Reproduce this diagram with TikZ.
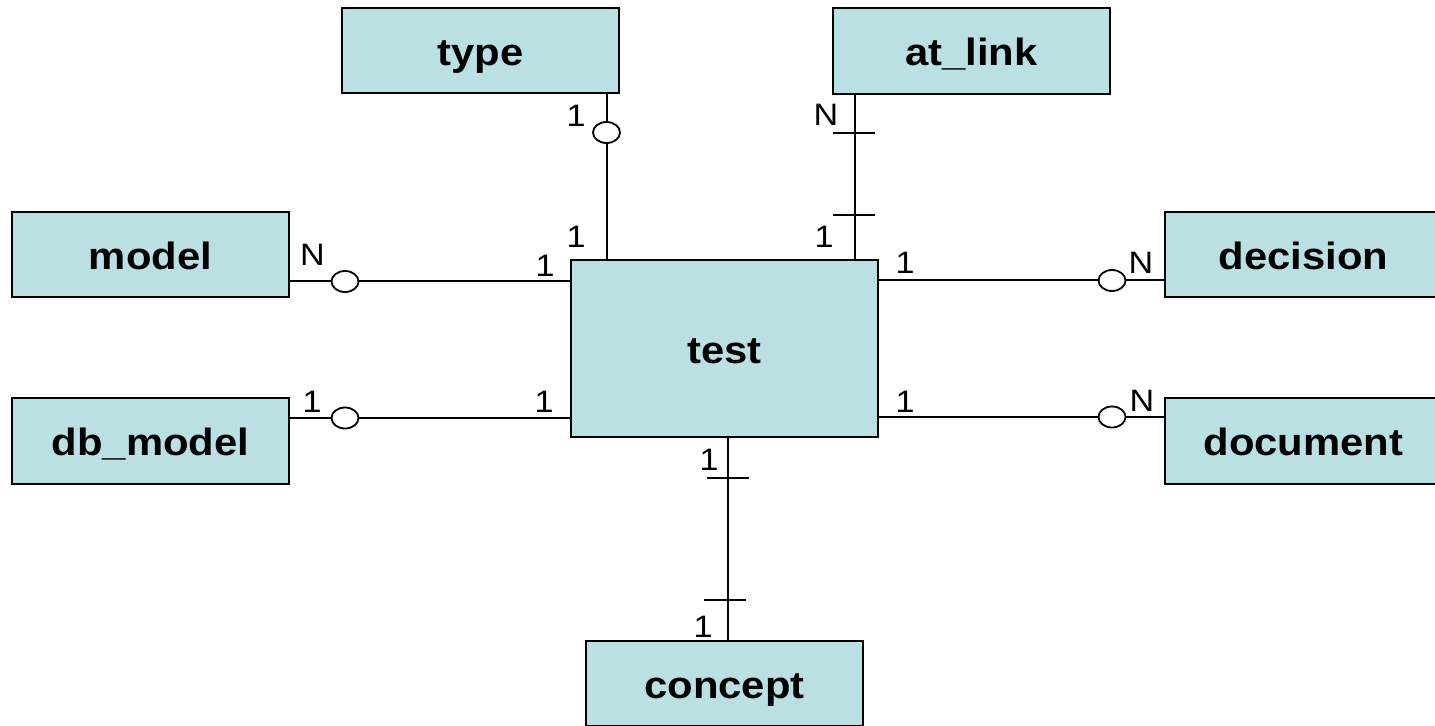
\documentclass[tikz,border=0pt]{standalone}
\usepackage{fontspec}
\setmainfont[FakeStretch=1.1]{Liberation Sans}
\usetikzlibrary{shapes.geometric}
\definecolor{entfill}{RGB}{186,224,227}
\begin{document}
\begin{tikzpicture}[x=0.5pt,y=-0.5pt,
  ent/.style={draw=black, line width=1pt, fill=entfill,
    font=\fontsize{19}{22}\selectfont\bfseries,
    text height=14.5pt, text depth=0pt,
    minimum width=138.5pt, minimum height=42.5pt, inner sep=0pt, outer sep=0pt},
  card/.style={font=\fontsize{15.5}{18}\selectfont, inner sep=0pt},
  rel/.style={line width=0.9pt},
  oring/.style={draw, line width=0.9pt, fill=white, ellipse,
    minimum width=13.5pt, minimum height=10.5pt, inner sep=0pt},
  bar/.style={line width=0.9pt}]
\useasboundingbox (0,0) rectangle (1435,725);

% entities
\node[ent] (type) at (480.5,50.5) {type};
\node[ent, minimum height=43pt] (atlink) at (971.5,51) {at\_link};
\node[ent] (model) at (150.5,254.5) {model};
\node[ent] (decision) at (1303.5,254.5) {decision};
\node[ent, minimum width=153.5pt, minimum height=88.5pt] (test) at (724.5,348.5) {test};
\node[ent, minimum height=43pt] (dbmodel) at (150.5,441) {db\_model};
\node[ent, minimum height=43pt] (document) at (1303.5,441) {document};
\node[ent] (concept) at (724.5,683.5) {concept};

% reference coordinates for connector positions
\coordinate (xtype) at (607,0);
\coordinate (xat) at (855,0);
\coordinate (xcon) at (728,0);
\coordinate (ymodel) at (0,281);
\coordinate (ydec) at (0,280);
\coordinate (ydb) at (0,418);
\coordinate (ydoc) at (0,417);

% connectors
\draw[rel] (type.south -| xtype) -- (test.north -| xtype);
\draw[rel] (atlink.south -| xat) -- (test.north -| xat);
\draw[rel] (model.east |- ymodel) -- (test.west |- ymodel);
\draw[rel] (test.east |- ydec) -- (decision.west |- ydec);
\draw[rel] (dbmodel.east |- ydb) -- (test.west |- ydb);
\draw[rel] (test.east |- ydoc) -- (document.west |- ydoc);
\draw[rel] (test.south -| xcon) -- (concept.north -| xcon);

% optional markers (circles)
\node[oring] (o1) at (606.5,132.5) {};
\node[oring] (o2) at (345,281.5) {};
\node[oring] (o3) at (345,418) {};
\node[oring] (o4) at (1112,280.5) {};
\node[oring] (o5) at (1112,417) {};

% mandatory markers (bars)
\draw[bar] (833,133) -- (875,133);
\draw[bar] (833,215) -- (875,215);
\draw[bar] (707,478) -- (749,478);
\draw[bar] (704,600) -- (746,600);

% cardinality labels
\node[card] (c1) at (576,116) {1};
\node[card] (c2) at (576,237) {1};
\node[card] (c3) at (545,266) {1};
\node[card] (c4) at (826,115) {N};
\node[card] (c5) at (824,237) {1};
\node[card] (c6) at (905,263) {1};
\node[card] (c7) at (312.5,254.5) {N};
\node[card] (c8) at (1141,263) {N};
\node[card] (c9) at (312,402) {1};
\node[card] (c10) at (544,402) {1};
\node[card] (c11) at (905,402) {1};
\node[card] (c12) at (1142,401) {N};
\node[card] (c13) at (709,460) {1};
\node[card] (c14) at (703,627) {1};
\end{tikzpicture}
\end{document}
